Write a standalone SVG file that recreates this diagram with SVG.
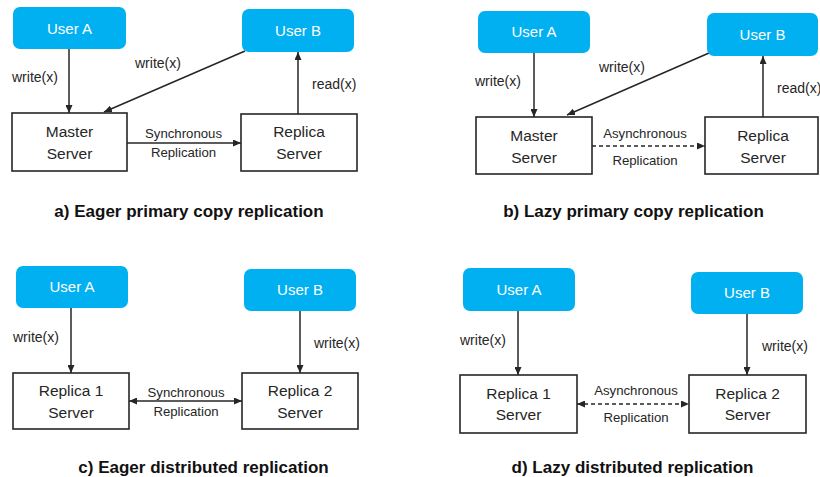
<svg xmlns="http://www.w3.org/2000/svg" width="820" height="477" viewBox="0 0 820 477">
<defs>
<style>
.user{fill:#00B0F0;}
.ut{fill:#ffffff;font-family:"Liberation Sans",Arial,sans-serif;font-size:15px;text-anchor:middle;}
.srv{fill:#ffffff;stroke:#262626;stroke-width:1.6;}
.st{fill:#262626;font-family:"Liberation Sans",Arial,sans-serif;font-size:15.5px;text-anchor:middle;}
.lbl{fill:#262626;font-family:"Liberation Sans",Arial,sans-serif;font-size:14px;}
.rl{fill:#262626;font-family:"Liberation Sans",Arial,sans-serif;font-size:13.2px;text-anchor:middle;}
.title{fill:#111;font-family:"Liberation Sans",Arial,sans-serif;font-size:17px;font-weight:bold;text-anchor:middle;}
.ln{stroke:#262626;stroke-width:1.5;fill:none;}
.dash{stroke-dasharray:4,3;}
</style>
<marker id="ah" viewBox="0 0 8 7" markerWidth="8" markerHeight="7" refX="8" refY="3.5" orient="auto" markerUnits="userSpaceOnUse">
<path d="M0,0 L8,3.5 L0,7 z" fill="#262626"/>
</marker>
<marker id="as" viewBox="0 0 8 7" markerWidth="8" markerHeight="7" refX="0" refY="3.5" orient="auto" markerUnits="userSpaceOnUse">
<path d="M8,0 L0,3.5 L8,7 z" fill="#262626"/>
</marker>
</defs>

<g id="connectors">
<!-- a -->
<line class="ln" x1="69" y1="49" x2="69" y2="113" marker-end="url(#ah)"/>
<line class="ln" x1="245" y1="51" x2="104" y2="112" marker-end="url(#ah)"/>
<line class="ln" x1="298" y1="114" x2="298" y2="52" marker-end="url(#ah)"/>
<line class="ln" x1="127" y1="143" x2="241" y2="143" marker-end="url(#ah)"/>
<!-- b -->
<line class="ln" x1="534" y1="53" x2="534" y2="117" marker-end="url(#ah)"/>
<line class="ln" x1="709" y1="53" x2="567" y2="115" marker-end="url(#ah)"/>
<line class="ln" x1="763" y1="117" x2="763" y2="56" marker-end="url(#ah)"/>
<line class="ln dash" x1="592" y1="146" x2="705" y2="146" marker-end="url(#ah)"/>
<!-- c -->
<line class="ln" x1="71" y1="308" x2="71" y2="373" marker-end="url(#ah)"/>
<line class="ln" x1="300" y1="311" x2="300" y2="373" marker-end="url(#ah)"/>
<line class="ln" x1="129" y1="401" x2="242" y2="401" marker-start="url(#as)" marker-end="url(#ah)"/>
<!-- d -->
<line class="ln" x1="518" y1="311" x2="518" y2="375" marker-end="url(#ah)"/>
<line class="ln" x1="747" y1="314" x2="747" y2="375" marker-end="url(#ah)"/>
<line class="ln dash" x1="577" y1="404" x2="689" y2="404" marker-start="url(#as)" marker-end="url(#ah)"/>
</g>

<g id="labels">
<text class="lbl" x="12" y="82">write(x)</text>
<text class="lbl" x="135" y="68">write(x)</text>
<text class="lbl" x="312" y="89">read(x)</text>
<text class="rl" x="183.5" y="138">Synchronous</text>
<text class="rl" x="183.5" y="157">Replication</text>

<text class="lbl" x="475" y="86">write(x)</text>
<text class="lbl" x="599" y="72">write(x)</text>
<text class="lbl" x="777" y="93">read(x)</text>
<text class="rl" x="645" y="138">Asynchronous</text>
<text class="rl" x="645" y="165">Replication</text>

<text class="lbl" x="13" y="342">write(x)</text>
<text class="lbl" x="314" y="348">write(x)</text>
<text class="rl" x="186" y="397">Synchronous</text>
<text class="rl" x="186" y="416">Replication</text>

<text class="lbl" x="460" y="345">write(x)</text>
<text class="lbl" x="762" y="351">write(x)</text>
<text class="rl" x="636" y="395">Asynchronous</text>
<text class="rl" x="636" y="422">Replication</text>
</g>

<!-- Panel a -->
<g id="a-userA"><rect class="user" x="13" y="7" width="113" height="42" rx="7"/><text class="ut" x="69.5" y="33.5">User A</text></g>
<g id="a-userB"><rect class="user" x="242" y="9" width="112" height="43" rx="7"/><text class="ut" x="298" y="36">User B</text></g>
<g id="a-master"><rect class="srv" x="12" y="113" width="115" height="58"/><text class="st" x="69.5" y="136.5">Master</text><text class="st" x="69.5" y="158.5">Server</text></g>
<g id="a-replica"><rect class="srv" x="241" y="114" width="116" height="57"/><text class="st" x="299" y="136.5">Replica</text><text class="st" x="299" y="158.5">Server</text></g>
<g id="a-title"><text class="title" x="189" y="217">a) Eager primary copy replication</text></g>

<!-- Panel b -->
<g id="b-userA"><rect class="user" x="478" y="11" width="112" height="42" rx="7"/><text class="ut" x="534" y="37">User A</text></g>
<g id="b-userB"><rect class="user" x="707" y="13" width="111" height="43" rx="7"/><text class="ut" x="762.5" y="40">User B</text></g>
<g id="b-master"><rect class="srv" x="476" y="117" width="116" height="57"/><text class="st" x="534" y="140.5">Master</text><text class="st" x="534" y="162.5">Server</text></g>
<g id="b-replica"><rect class="srv" x="705" y="117" width="113" height="57"/><text class="st" x="763" y="140.5">Replica</text><text class="st" x="763" y="162.5">Server</text></g>
<g id="b-title"><text class="title" x="633.5" y="217">b) Lazy primary copy replication</text></g>

<!-- Panel c -->
<g id="c-userA"><rect class="user" x="16" y="266" width="112" height="42" rx="7"/><text class="ut" x="72" y="291.5">User A</text></g>
<g id="c-userB"><rect class="user" x="244" y="269" width="112" height="42" rx="7"/><text class="ut" x="300" y="294.5">User B</text></g>
<g id="c-replica1"><rect class="srv" x="13" y="373" width="116" height="56"/><text class="st" x="71" y="395.5">Replica 1</text><text class="st" x="71" y="417.5">Server</text></g>
<g id="c-replica2"><rect class="srv" x="242" y="373" width="116" height="56"/><text class="st" x="300" y="395.5">Replica 2</text><text class="st" x="300" y="417.5">Server</text></g>
<g id="c-title"><text class="title" x="203.5" y="473">c) Eager distributed replication</text></g>

<!-- Panel d -->
<g id="d-userA"><rect class="user" x="463" y="268" width="112" height="43" rx="7"/><text class="ut" x="519" y="294.5">User A</text></g>
<g id="d-userB"><rect class="user" x="691" y="272" width="112" height="42" rx="7"/><text class="ut" x="747" y="297.5">User B</text></g>
<g id="d-replica1"><rect class="srv" x="460" y="375" width="117" height="58"/><text class="st" x="518.5" y="398.5">Replica 1</text><text class="st" x="518.5" y="419.5">Server</text></g>
<g id="d-replica2"><rect class="srv" x="689" y="375" width="117" height="58"/><text class="st" x="747.5" y="398.5">Replica 2</text><text class="st" x="747.5" y="419.5">Server</text></g>
<g id="d-title"><text class="title" x="632.5" y="473">d) Lazy distributed replication</text></g>
</svg>
